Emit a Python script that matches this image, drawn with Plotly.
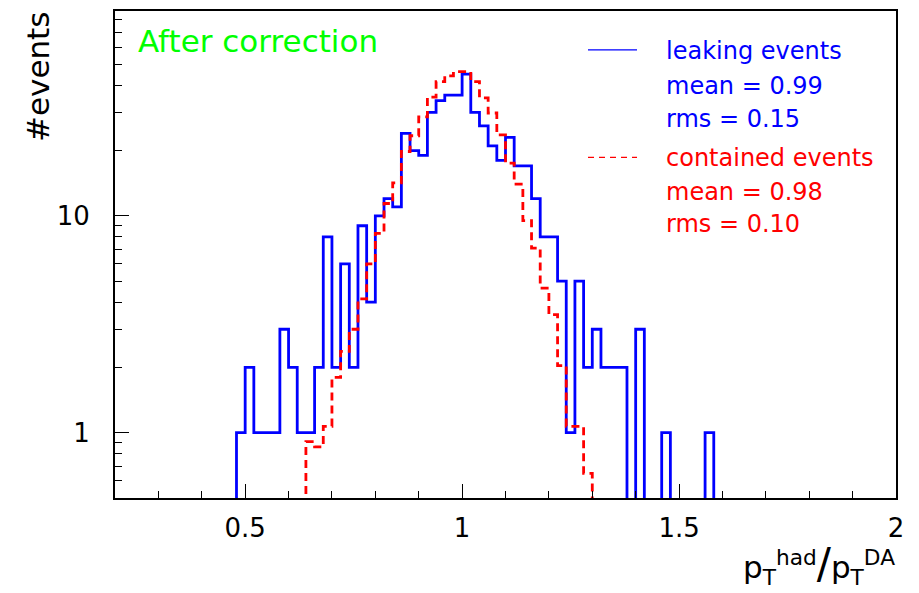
import numpy as np
import plotly.graph_objects as go

# Histogram binning (both samples share the same 0.02-wide bins)
bin_width = 0.02

# Leaking events: counts per bin, first bin starts at 0.48
leak_start = 0.48
leak_counts = [1, 2, 1, 1, 1, 3, 2, 1, 1, 2,
               8, 2, 6, 2, 9, 4, 10, 12, 11, 24,
               20, 19, 30, 34, 36, 36, 45, 30, 26, 21,
               18, 23, 17, 17, 12, 8, 8, 5, 1, 5,
               2, 3, 2, 2, 2, 0, 3, 0, 0, 1,
               0, 0, 0, 0, 1]

# Contained events (normalised), first bin starts at 0.64
cont_start = 0.64
cont_counts = [0.91, 0.86, 1.07, 1.80, 2.37, 3.0, 4.14, 6.0, 8.3, 11.4,
               14.2, 19.8, 23.4, 28.6, 35.3, 41.6, 44.2, 46.2, 46.2, 41.6,
               35.0, 29.8, 23.6, 17.5, 14.0, 9.5, 7.1, 4.64, 3.5, 2.04,
               1.07, 1.07, 0.65]

leak_label = ["leaking events", "mean = 0.99", "rms = 0.15"]
cont_label = ["contained events", "mean = 0.98", "rms = 0.10"]

x_major = [0.5, 1.0, 1.5, 2.0]
x_major_text = ["0.5", "1", "1.5", "2"]
y_major = [1, 10]
y_major_text = ["1", "10"]

X_RANGE = [0.2, 2.0]
Y_RANGE = [0.5, 88.0]
FLOOR = 0.05  # empty bins are drawn below the visible range


def step_outline(start, counts):
    """ROOT-style histogram outline: rises from zero, steps over bins, falls back."""
    n = len(counts)
    edges = start + bin_width * np.arange(n + 1)
    vals = [c if c > 0 else FLOOR for c in counts]
    xs = [edges[0]] + list(edges[:-1]) + [edges[-1]]
    ys = [FLOOR] + vals + [FLOOR]
    return xs, ys


FONT = "DejaVu Sans"
BLUE = "#0000ff"
RED = "#ff0000"

fig = go.Figure()

lx, ly = step_outline(leak_start, leak_counts)
fig.add_trace(go.Scatter(x=lx, y=ly, mode="lines", line_shape="hv",
                         line=dict(color=BLUE, width=2.8), hoverinfo="skip"))

cx, cy = step_outline(cont_start, cont_counts)
fig.add_trace(go.Scatter(x=cx, y=cy, mode="lines", line_shape="hv",
                         line=dict(color=RED, width=2.8, dash="8px,5px"),
                         hoverinfo="skip"))

x_minor = [round(v, 1) for v in np.arange(0.2, 2.001, 0.1)]
y_minor = [0.5, 0.6, 0.7, 0.8, 0.9] + list(range(2, 10)) + list(range(20, 100, 10))

fig.update_xaxes(
    range=X_RANGE, showline=True, linecolor="black", linewidth=2, mirror=True,
    showgrid=False, zeroline=False,
    ticks="inside", tickvals=x_major, ticktext=x_major_text,
    ticklen=14, tickwidth=1, tickcolor="black",
    minor=dict(tickvals=x_minor, ticks="inside", ticklen=7, tickwidth=1,
               tickcolor="black"),
    tickfont=dict(family=FONT, size=26, color="black"),
    ticklabelstandoff=6,
)
fig.update_yaxes(
    type="log", range=[np.log10(Y_RANGE[0]), np.log10(Y_RANGE[1])],
    showline=True, linecolor="black", linewidth=2, mirror=True,
    showgrid=False, zeroline=False,
    ticks="inside", tickvals=y_major, ticktext=y_major_text,
    ticklen=14, tickwidth=1, tickcolor="black",
    minor=dict(tickvals=y_minor, ticks="inside", ticklen=7, tickwidth=1,
               tickcolor="black"),
    tickfont=dict(family=FONT, size=26, color="black"),
    ticklabelstandoff=18,
)

W, H = 919, 593
L, R, T, B = 115, 23, 9, 95
pw, ph = W - L - R, H - T - B


def px(x):
    return (x - L) / pw


def py(y):
    return 1 - (y - T) / ph


annotations = []
# In-frame label
annotations.append(dict(x=px(136), y=py(39), xref="paper", yref="paper",
                        xanchor="left", yanchor="middle", showarrow=False,
                        text="After correction",
                        font=dict(family=FONT, size=31, color="#00ff00")))

# Legend text blocks
for txt, yc in zip(leak_label, [49, 84, 117]):
    annotations.append(dict(x=px(664), y=py(yc), xref="paper", yref="paper",
                            xanchor="left", yanchor="middle", showarrow=False,
                            text=txt, font=dict(family=FONT, size=24, color=BLUE)))
for txt, yc in zip(cont_label, [157, 191, 223]):
    annotations.append(dict(x=px(664), y=py(yc), xref="paper", yref="paper",
                            xanchor="left", yanchor="middle", showarrow=False,
                            text=txt, font=dict(family=FONT, size=24, color=RED)))

# Axis titles
annotations.append(dict(x=px(38), y=py(8), xref="paper", yref="paper",
                        xanchor="center", yanchor="top", showarrow=False,
                        textangle=-90, text="#events",
                        font=dict(family=FONT, size=31, color="black")))
annotations.append(dict(x=px(897), y=py(592), xref="paper", yref="paper",
                        xanchor="right", yanchor="bottom", showarrow=False,
                        text="p<sub>T</sub><sup>had</sup>"
                             "<span style='font-size:42px'>/</span>"
                             "p<sub>T</sub><sup>DA</sup>",
                        font=dict(family=FONT, size=31, color="black")))

shapes = [
    dict(type="line", xref="paper", yref="paper", x0=px(588), x1=px(637),
         y0=py(48), y1=py(48), line=dict(color=BLUE, width=1.2)),
    dict(type="line", xref="paper", yref="paper", x0=px(588), x1=px(637),
         y0=py(156), y1=py(156), line=dict(color=RED, width=1.2, dash="6px,5px")),
]

fig.update_layout(
    width=W, height=H, margin=dict(l=L, r=R, t=T, b=B),
    plot_bgcolor="white", paper_bgcolor="white", showlegend=False,
    annotations=annotations, shapes=shapes,
)

fig.write_html("out.html")
